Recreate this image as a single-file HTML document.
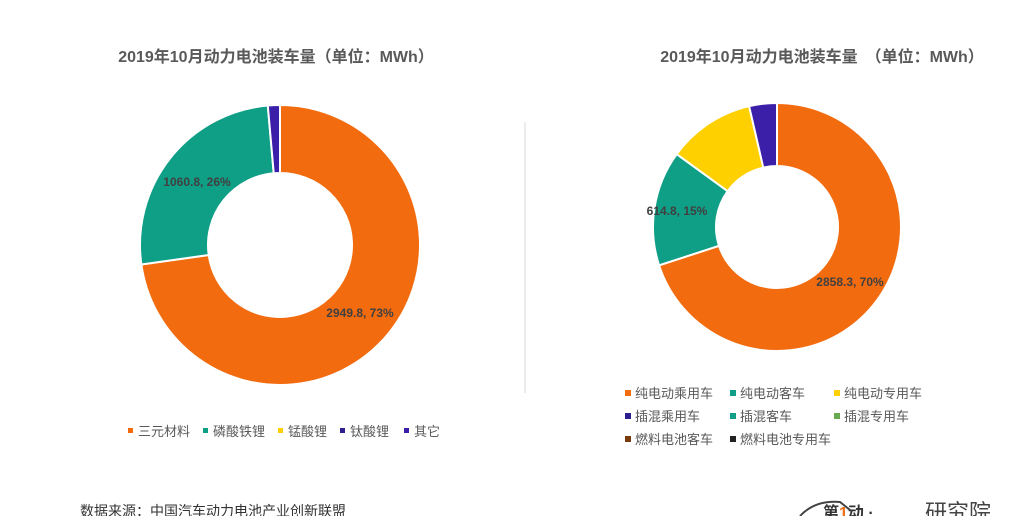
<!DOCTYPE html>
<html><head><meta charset="utf-8"><style>
body{margin:0;background:#fff;}
svg{display:block;font-family:"Liberation Sans","Noto Sans CJK SC",sans-serif;}
</style></head><body>
<svg width="1024" height="516" viewBox="0 0 1024 516" xmlns="http://www.w3.org/2000/svg">
<text x="276" y="62" text-anchor="middle" font-size="16" font-weight="bold" fill="#595959">2019年10月动力电池装车量（单位：MWh）</text>
<text x="822" y="62" text-anchor="middle" font-size="16" font-weight="bold" fill="#595959">2019年10月动力电池装车量　（单位：MWh）</text>
<line x1="525" y1="122" x2="525" y2="393" stroke="#d9d9d9" stroke-width="1"/>
<g stroke="#fff" stroke-width="2">
<path id="l1"/><path id="l2"/><path id="l3"/>
<path id="r1"/><path id="r2"/><path id="r3"/><path id="r4"/>
</g>
<text x="360" y="317" text-anchor="middle" font-size="12" font-weight="bold" fill="#404040">2949.8, 73%</text>
<text x="197" y="186" text-anchor="middle" font-size="12" font-weight="bold" fill="#404040">1060.8, 26%</text>
<text x="850" y="286" text-anchor="middle" font-size="12" font-weight="bold" fill="#404040">2858.3, 70%</text>
<text x="677" y="215" text-anchor="middle" font-size="12" font-weight="bold" fill="#404040">614.8, 15%</text>
<g font-size="13" fill="#595959">
<rect x="128" y="428" width="5" height="5" fill="#f26b0f"/><text x="138" y="436">三元材料</text>
<rect x="203" y="428" width="5" height="5" fill="#0f9e86"/><text x="213" y="436">磷酸铁锂</text>
<rect x="278" y="428" width="5" height="5" fill="#ffd000"/><text x="288" y="436">锰酸锂</text>
<rect x="340" y="428" width="5" height="5" fill="#2e1f8f"/><text x="350" y="436">钛酸锂</text>
<rect x="404" y="428" width="5" height="5" fill="#3b1fa8"/><text x="414" y="436">其它</text>
<rect x="625" y="390" width="6" height="6" fill="#f26b0f"/><text x="635" y="398">纯电动乘用车</text>
<rect x="730" y="390" width="6" height="6" fill="#0f9e86"/><text x="740" y="398">纯电动客车</text>
<rect x="834" y="390" width="6" height="6" fill="#ffd000"/><text x="844" y="398">纯电动专用车</text>
<rect x="625" y="413" width="6" height="6" fill="#2e1f8f"/><text x="635" y="421">插混乘用车</text>
<rect x="730" y="413" width="6" height="6" fill="#0f9e86"/><text x="740" y="421">插混客车</text>
<rect x="834" y="413" width="6" height="6" fill="#6aa84f"/><text x="844" y="421">插混专用车</text>
<rect x="625" y="436" width="6" height="6" fill="#7a3b0c"/><text x="635" y="444">燃料电池客车</text>
<rect x="730" y="436" width="6" height="6" fill="#222"/><text x="740" y="444">燃料电池专用车</text>
</g>
<text x="80" y="516" font-size="14" fill="#333">数据来源：中国汽车动力电池产业创新联盟</text>
<path d="M800,516 Q815,500 840,502 L850,510" stroke="#444" stroke-width="2" fill="none"/>
<text x="823" y="518" font-size="16" font-weight="bold" fill="#333">第<tspan fill="#f26b0f">1</tspan>动 ·</text>
<text x="925" y="520" font-size="22" fill="#444">研究院</text>
</svg>
<script>
function arc(cx,cy,R,r,a0,a1){
 const p=(rad,a)=>{const t=(a-90)*Math.PI/180;return [cx+rad*Math.cos(t),cy+rad*Math.sin(t)];};
 const L=(a1-a0)>180?1:0;
 const [x0,y0]=p(R,a0),[x1,y1]=p(R,a1),[x2,y2]=p(r,a1),[x3,y3]=p(r,a0);
 return `M${x0},${y0}A${R},${R} 0 ${L} 1 ${x1},${y1}L${x2},${y2}A${r},${r} 0 ${L} 0 ${x3},${y3}Z`;
}
const set=(id,d,f)=>{const e=document.getElementById(id);e.setAttribute('d',d);e.setAttribute('fill',f);};
set('l1',arc(280,245,140,72,0,262),'#f26b0f');
set('l2',arc(280,245,140,72,262,355),'#0f9e86');
set('l3',arc(280,245,140,72,355,360),'#3b1fa8');
set('r1',arc(777,227,124,61,0,252),'#f26b0f');
set('r2',arc(777,227,124,61,252,306),'#0f9e86');
set('r3',arc(777,227,124,61,306,347),'#ffd000');
set('r4',arc(777,227,124,61,347,360),'#3b1fa8');
</script>
</body></html>
